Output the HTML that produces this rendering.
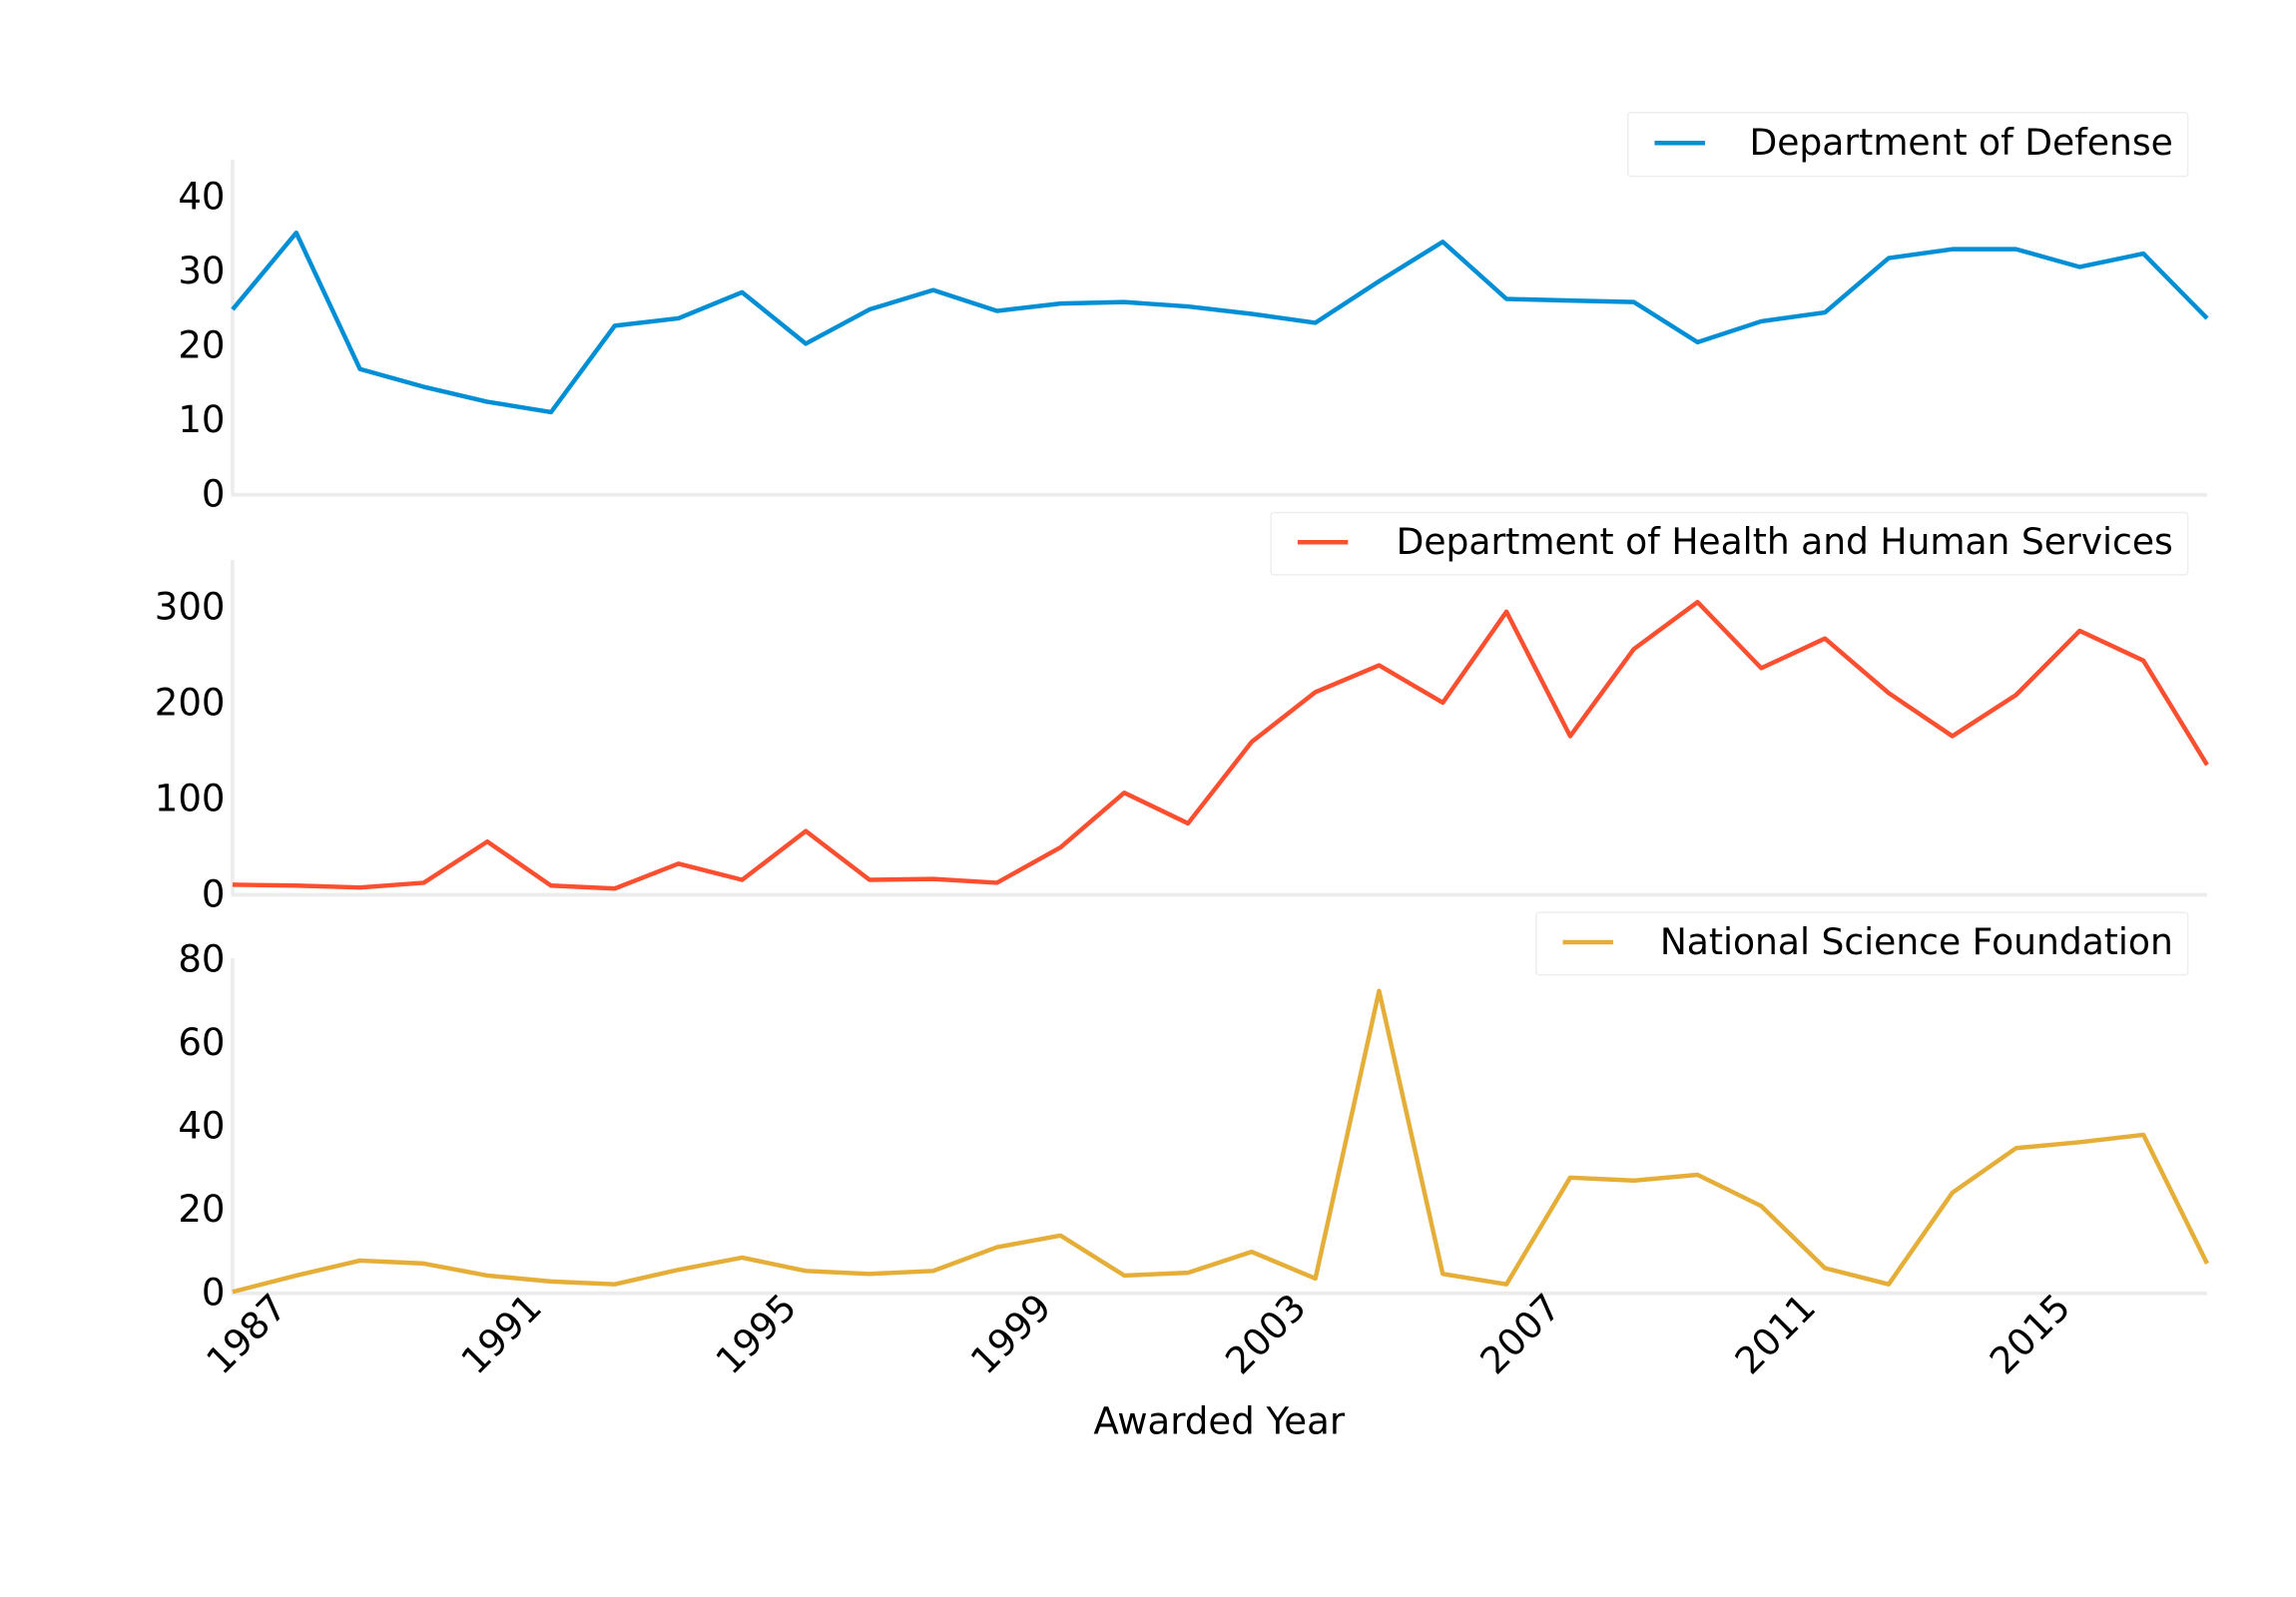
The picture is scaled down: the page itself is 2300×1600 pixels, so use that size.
<!DOCTYPE html>
<html><head><meta charset="utf-8"><style>
html,body{margin:0;padding:0;background:#fff;}
svg{display:block;font-family:"DejaVu Sans","Liberation Sans",sans-serif;}
</style></head><body>
<svg id="chart" width="2300" height="1600" viewBox="0 0 1550 1078" preserveAspectRatio="none" xmlns="http://www.w3.org/2000/svg"></svg>
<script>
const years = [1986,1987,1988,1989,1990,1991,1992,1993,1994,1995,1996,1997,1998,1999,2000,2001,2002,2003,2004,2005,2006,2007,2008,2009,2010,2011,2012,2013,2014,2015,2016,2017];
const dodValues = [24.7,35,16.7,14.3,12.3,10.9,22.5,23.5,27,20.1,24.7,27.3,24.5,25.5,25.7,25.1,24.1,22.9,28.5,33.8,26.1,25.9,25.7,20.3,23.1,24.3,31.6,32.8,32.8,30.4,32.2,23.5];
const hhsValues = [9,8,6,11,54,8,5,31,14,65,14,15,11,48,105,73,158,210,238,199,294,164,255,304,235,266,209,164,207,274,243,134];
const nsfValues = [0,3.9,7.5,6.8,3.9,2.5,1.8,5.3,8.2,5,4.3,5,10.7,13.5,3.9,4.6,9.6,3.2,72.2,4.3,1.8,27.4,26.7,28.1,20.6,5.7,1.8,23.8,34.5,35.9,37.7,6.8];
const dodTicks = [0,10,20,30,40];
const hhsTicks = [0,100,200,300];
const nsfTicks = [0,20,40,60,80];
const xTickYears = [1987,1991,1995,1999,2003,2007,2011,2015];

const NS = "http://www.w3.org/2000/svg";
const svg = document.getElementById('chart');
function mk(tag, attrs, parent){const e=document.createElementNS(NS,tag);for(const k in attrs)e.setAttribute(k,attrs[k]);(parent||svg).appendChild(e);return e;}
const X0=157, X1=1490;
function xScale(yr){return X0+(yr-years[0])*(X1-X0)/(years[years.length-1]-years[0]);}

const panels = [
 {name:'defense', values:dodValues, ticks:dodTicks, max:40, y0:333, yMax:132, top:108, color:'#008fd5', label:'Department of Defense', box:[1099,76,378,43]},
 {name:'health', values:hhsValues, ticks:hhsTicks, max:300, y0:603, yMax:409, top:378, color:'#fc4f30', label:'Department of Health and Human Services', box:[858,346,619,42]},
 {name:'nsf', values:nsfValues, ticks:nsfTicks, max:80, y0:872, yMax:647, top:647, color:'#e5ae38', label:'National Science Foundation', box:[1037,616,440,42]}
];

panels.forEach(p=>{
  const g=mk('g',{});
  
  
  const yS=v=>p.y0-(v/p.max)*(p.y0-p.yMax);
  const ls=mk('line',{x1:X0,y1:p.top,x2:X0,y2:p.y0,stroke:'#ececec','stroke-width':2.5},g);
  
  
  const bs=mk('line',{x1:X0-1,y1:p.y0+1,x2:X1,y2:p.y0+1,stroke:'#ececec','stroke-width':2.5},g);
  
  
  p.ticks.forEach(t=>{
    const tx=mk('text',{x:152,y:yS(t)+9,'text-anchor':'end','font-size':25,fill:'#000'},g);
    tx.textContent=t;
    
    
  });
  const pts=p.values.map((v,i)=>xScale(years[i]).toFixed(1)+','+yS(v).toFixed(1)).join(' ');
  const line=mk('polyline',{points:pts,fill:'none',stroke:p.color,'stroke-width':3,'stroke-linejoin':'round'},g);
  
  
  const lg=mk('g',{},g);
  
  
  const b=p.box;
  mk('rect',{x:b[0],y:b[1],width:b[2],height:b[3],fill:'#fff',stroke:'#eeeeee','stroke-width':1,rx:2},lg);
  const cy=b[1]+b[3]/2-1;
  mk('line',{x1:b[0]+18,y1:cy,x2:b[0]+52,y2:cy,stroke:p.color,'stroke-width':3},lg);
  const lt=mk('text',{x:b[0]+b[2]-10,y:cy+8,'text-anchor':'end','font-size':24.3,fill:'#000'},lg);
  lt.textContent=p.label;
  
  
});

xTickYears.forEach(yr=>{
  const x=xScale(yr)-5, y=884;
  const t=mk('text',{x:x,y:y,'text-anchor':'end','font-size':25,fill:'#000',transform:'rotate(-45 '+x+' '+y+')'});
  t.textContent=yr;
  
  
});
const xt=mk('text',{x:823,y:968,'text-anchor':'middle','font-size':25,fill:'#000'});
xt.textContent='Awarded Year';


</script>
</body></html>
